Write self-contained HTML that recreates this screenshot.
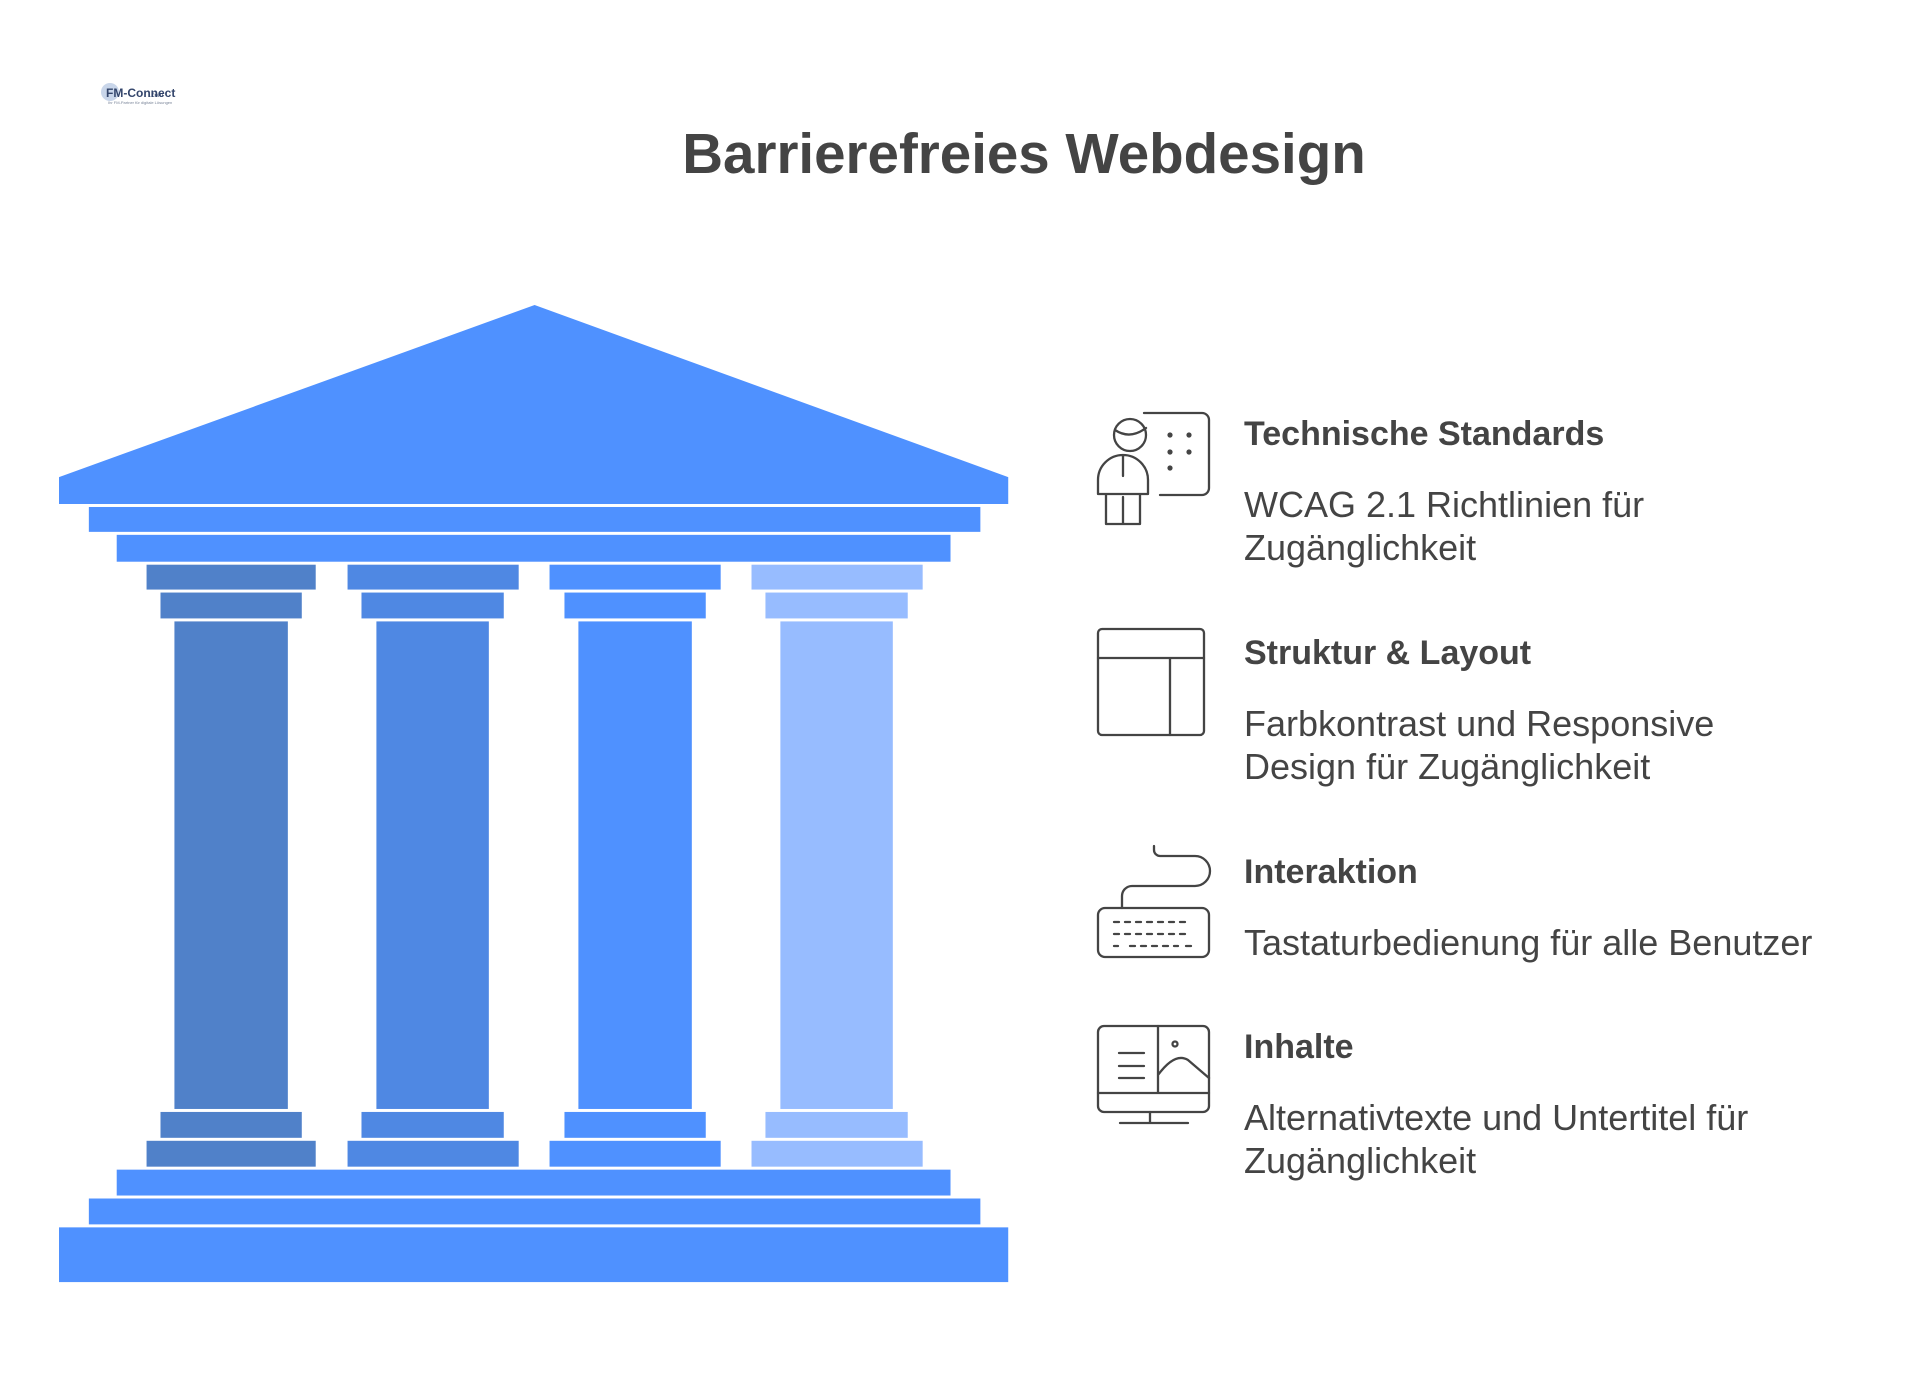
<!DOCTYPE html>
<html><head><meta charset="utf-8"><style>
html,body{margin:0;padding:0;background:#fff;}
svg{display:block;}
text{font-family:"Liberation Sans",Arial,sans-serif;}
</style></head><body>
<svg width="1920" height="1398" viewBox="0 0 1920 1398" xmlns="http://www.w3.org/2000/svg">
<rect width="1920" height="1398" fill="#fff"/>
<g>
<circle cx="110" cy="92" r="9" fill="#c9d6ea"/>
<text x="106" y="97" font-size="12" font-weight="bold" fill="#33456b">FM-Connect</text>
<text x="150" y="97" font-size="6" fill="#33456b">.com</text>
<text x="108" y="104" font-size="4" fill="#7a8599">Ihr FM-Partner für digitale Lösungen</text>
</g>
<text x="1024" y="173" font-size="56.5" font-weight="bold" fill="#444" text-anchor="middle">Barrierefreies Webdesign</text>
<g transform="translate(59 305) scale(0.995) translate(-59 -305)">
<polygon points="59,478 537,305 1013,478 1013,505 59,505" fill="#4F91FF"/>
<rect x="89" y="508" width="896" height="25" fill="#4F91FF"/>
<rect x="117" y="536" width="838" height="27" fill="#4F91FF"/>
<g fill="#5081C9">
<rect x="147" y="566" width="170" height="25"/><rect x="161" y="594" width="142" height="26"/>
<rect x="175" y="623" width="114" height="490"/>
<rect x="161" y="1116" width="142" height="26"/><rect x="147" y="1145" width="170" height="26"/></g>
<g fill="#4F88E3">
<rect x="349" y="566" width="172" height="25"/><rect x="363" y="594" width="143" height="26"/>
<rect x="378" y="623" width="113" height="490"/>
<rect x="363" y="1116" width="143" height="26"/><rect x="349" y="1145" width="172" height="26"/></g>
<g fill="#4F91FF">
<rect x="552" y="566" width="172" height="25"/><rect x="567" y="594" width="142" height="26"/>
<rect x="581" y="623" width="114" height="490"/>
<rect x="567" y="1116" width="142" height="26"/><rect x="552" y="1145" width="172" height="26"/></g>
<g fill="#97BCFF">
<rect x="755" y="566" width="172" height="25"/><rect x="769" y="594" width="143" height="26"/>
<rect x="784" y="623" width="113" height="490"/>
<rect x="769" y="1116" width="143" height="26"/><rect x="755" y="1145" width="172" height="26"/></g>
<rect x="117" y="1174" width="838" height="26" fill="#4F91FF"/>
<rect x="89" y="1203" width="896" height="26" fill="#4F91FF"/>
<rect x="59" y="1232" width="954" height="55" fill="#4F91FF"/>
</g>
<g fill="none" stroke="#444" stroke-width="2.3" stroke-linecap="round" stroke-linejoin="round">
<circle cx="1130" cy="435" r="16"/>
<path d="M1115 430 Q1130 440 1146 428"/>
<path d="M1144 413 H1202 a7 7 0 0 1 7 7 V488 a7 7 0 0 1 -7 7 H1160"/>
<path d="M1098 494 V480 a25 25 0 0 1 50 0 V494 Z M1123 455 V476 M1106 494 V524 H1140 V494 M1123 497 V524"/>
<rect x="1098" y="629" width="106" height="106" rx="4"/>
<path d="M1098 658 H1204 M1170 658 V735"/>
<path d="M1154 846 V850 a6 6 0 0 0 6 6 H1195 a15 15 0 0 1 0 30 H1132 a10 10 0 0 0 -10 10 V908"/>
<rect x="1098" y="908" width="111" height="49" rx="7"/>
<path d="M1114 922 H1191 M1114 934 H1191 M1114 946 H1118 M1130 946 H1178 M1186 946 H1191" stroke-dasharray="5 6"/>
<rect x="1098" y="1026" width="111" height="86" rx="6"/>
<path d="M1098 1093 H1209 M1158 1026 V1093 M1119 1053 H1144 M1119 1066 H1144 M1119 1078 H1144 M1158 1075 Q1175 1052 1188 1060 L1209 1078 M1150 1112 V1122 M1120 1123 H1188"/>
<circle cx="1175" cy="1044" r="2.5"/>
</g>
<g fill="#444">
<circle cx="1170" cy="435" r="2.6"/><circle cx="1189" cy="435" r="2.6"/>
<circle cx="1170" cy="452" r="2.6"/><circle cx="1189" cy="452" r="2.6"/>
<circle cx="1170" cy="468" r="2.6"/>
</g>
<g fill="#444">
<text x="1244" y="445" font-size="34" font-weight="bold">Technische Standards</text>
<text x="1244" y="517" font-size="36">WCAG 2.1 Richtlinien für</text>
<text x="1244" y="560" font-size="36">Zugänglichkeit</text>
<text x="1244" y="664" font-size="34" font-weight="bold">Struktur &amp; Layout</text>
<text x="1244" y="736" font-size="36">Farbkontrast und Responsive</text>
<text x="1244" y="779" font-size="36">Design für Zugänglichkeit</text>
<text x="1244" y="883" font-size="34" font-weight="bold">Interaktion</text>
<text x="1244" y="955" font-size="36">Tastaturbedienung für alle Benutzer</text>
<text x="1244" y="1058" font-size="34" font-weight="bold">Inhalte</text>
<text x="1244" y="1130" font-size="36">Alternativtexte und Untertitel für</text>
<text x="1244" y="1173" font-size="36">Zugänglichkeit</text>
</g>
</svg>
</body></html>
